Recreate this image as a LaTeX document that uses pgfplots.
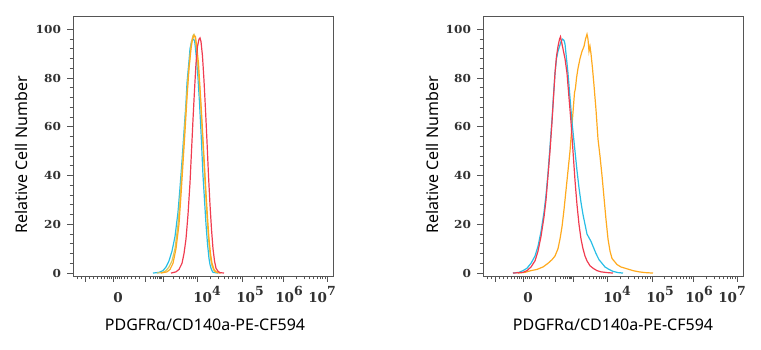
\documentclass[border=0pt]{standalone}
\usepackage{fontspec}
\setmainfont{Noto Sans}
\newfontfamily\tickfont{DejaVu Serif}
\newfontfamily\ytickfont{DejaVu Serif}[FakeStretch=1.1]
\usepackage{pgfplots}
\pgfplotsset{compat=1.18}
\definecolor{cy}{RGB}{40,190,230}
\definecolor{kh}{RGB}{215,200,95}
\definecolor{orng}{RGB}{255,170,30}
\definecolor{rd}{RGB}{240,60,80}
\definecolor{axc}{RGB}{85,85,85}
\definecolor{tlc}{RGB}{50,50,50}
\newcommand\tp[1]{10\raisebox{7pt}{\fontsize{12.5}{13}\selectfont #1}}
\pgfplotsset{flowax/.style={
  scale only axis, width=260pt, height=260pt, anchor=south west,
  xmin=0, xmax=260, ymin=-1.2, ymax=105.5,
  axis line style={draw=axc, line width=0.9pt},
  tick align=outside, xtick pos=bottom, ytick pos=left,
  ytick={0,20,40,60,80,100}, minor y tick num=4,
  /pgf/number format/assume math mode=true,
  yticklabel style={font=\ytickfont\bfseries\fontsize{11}{12}\selectfont, text=tlc, xshift=-2.5pt},
  major tick length=6pt, minor tick length=3.5pt,
  every tick/.style={axc, line width=0.9pt},
  xtick={12,40,72,90,124,169,210,254}, xticklabels={},
  minor xtick={4,8,16,20,24,28,31,34,36,38,42,44,46,48,51,54,58,62,66,77.4,80.6,82.8,84.6,86,87.2,88.3,100.2,106.2,110.5,113.8,116.5,118.7,120.7,122.4,137.5,145.5,151,155.5,159,162,164.6,167,181.3,188.6,193.7,197.7,200.9,203.6,206,208.1,223.2,231,236.5,240.8,244.2,247.2,249.7,252},
  extra x ticks={45,134,177,216,249},
  extra x tick labels={0,\tp{4},\tp{5},\tp{6},\tp{7}},
  extra x tick style={major tick length=0pt, xticklabel style={anchor=base, inner sep=0pt, yshift=-27pt, font=\tickfont\bfseries\fontsize{13.5}{14}\selectfont, text=tlc}},
  every axis plot/.append style={line width=1.2pt, no markers},
}}
\begin{document}
\begin{tikzpicture}
\path[use as bounding box] (0,0) rectangle (761pt,350pt);
% left panel
\begin{axis}[flowax, at={(73pt,74pt)}]
\addplot[cy] coordinates {(80,0)(86,0.3)(90,1)(93,2.5)(96,5)(99,9)(102,15)(105,25)(107,35)(109,46)(111,58)(113,70)(114,78)(116,87)(117,92)(118.5,95)(120,96)(121.5,95.5)(122,94)(123.5,88)(125,80)(126.5,70)(128,58)(129,49)(130,40)(131.5,30)(133,20)(134.5,12)(136,6)(137,3.5)(138,2)(139,1)(140,0.3)(145,0)};
\addplot[kh] coordinates {(84,0)(90,0.3)(93,1)(96,2.5)(99,5)(102,10)(105,20)(107,30)(109,42)(111,55)(113,68)(115,80)(117,89)(118.5,95)(120,97.5)(121,98)(122,97)(123.5,92)(125,85)(127,74)(128.5,63)(130,52)(131.5,41)(133,30)(134.5,20)(136,12)(137.5,6)(139,3)(141,1)(143,0.3)(148,0)};
\addplot[orng] coordinates {(88,0)(94,0.5)(97,1.5)(100,4)(103,10)(106,20)(108,32)(110,45)(112,58)(114,72)(116,84)(118,92)(119.5,96)(121,97.5)(122.5,97)(124,92)(125.5,86)(127,76)(128.5,66)(130,55)(131.5,44)(133,33)(134.5,23)(136,14)(137.5,8)(139,4)(141,1.5)(143,0.5)(147,0)};
\addplot[rd] coordinates {(98,0)(103,0.5)(106,1.5)(109,4)(111,8)(113,14)(115,24)(117,37)(118.5,50)(120,63)(121.5,75)(123,86)(124.5,93)(126,96)(127,96.5)(128,95)(129.5,89)(131,79)(132.5,67)(134,54)(135.5,40)(137,28)(138.5,18)(140,10)(141.5,5)(143,2)(145,0.7)(147,0.2)(151,0)};
\end{axis}
% right panel
\begin{axis}[flowax, at={(483pt,74pt)}]
\addplot[orng] coordinates {(35,0)(42,0.3)(48,1)(54,1.5)(60,2.5)(65,4)(69,5.5)(72,7)(75,10)(77,14)(79,19)(81,26)(83,34)(85,42)(87,50)(88.5,58)(90,66)(91.5,74)(92.5,76)(93.5,80)(95,84)(97,88)(99,91)(101,93)(102.5,96)(104,98)(105,96)(106,91)(107,93)(108,90)(109.5,84)(111,77)(113,67)(115,55)(117,48)(119,40)(121,31)(123,22)(125,14)(127,9)(129,6)(131,5)(134,3.5)(138,2.5)(142,2)(146,1.5)(150,1)(156,0.5)(162,0.2)(170,0)};
\addplot[cy] coordinates {(30,0)(36,0.3)(40,1)(44,2)(48,4)(52,7)(55,11)(58,17)(61,25)(63,32)(65,41)(67,52)(69,63)(70.5,73)(72,82)(73.5,88)(75,91)(76.5,93)(78,95)(79.5,96)(81,95.5)(82,94)(83.5,88)(85,82)(87,72)(89,62)(91,54)(92,50)(94,42)(96,35)(98,29)(100,24)(102,20)(104,16)(106,14.5)(108,13)(110,11)(113,8)(116,5.5)(119,4)(122,2.5)(126,1.5)(130,0.7)(135,0.2)(140,0)};
\addplot[rd] coordinates {(30,0)(40,0.3)(44,1)(48,2.5)(52,5)(55,9)(58,15)(61,23)(63,30)(65,40)(67,50)(69,62)(70.5,72)(72,82)(73.5,89)(75,93)(76.5,96)(77.5,97)(78.5,95)(80,92)(82,88)(84,82)(86,72)(88,62)(90,50)(92,38)(94,28)(96,20)(98,14)(100,10)(102,7)(104,5)(107,3)(110,2)(114,1)(118,0.5)(124,0.2)(130,0)};
\end{axis}
% axis titles
\node[rotate=90, font=\fontsize{16}{18}\selectfont] at (22pt,195pt) {Relative Cell Number};
\node[rotate=90, font=\fontsize{16}{18}\selectfont] at (432pt,195pt) {Relative Cell Number};
\node[font=\fontsize{16}{18}\selectfont] at (205pt,25pt) {PDGFRα/CD140a-PE-CF594};
\node[font=\fontsize{16}{18}\selectfont] at (613pt,25pt) {PDGFRα/CD140a-PE-CF594};
\end{tikzpicture}
\end{document}
